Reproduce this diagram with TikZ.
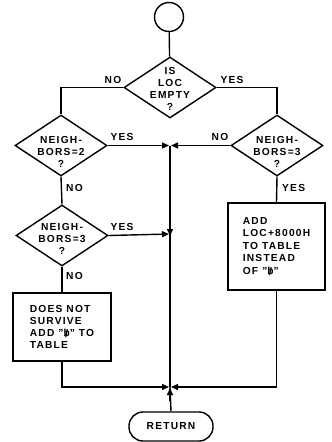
\documentclass[tikz,border=0pt]{standalone}
\usepackage{fontspec}
\setmainfont{Liberation Sans}[LetterSpace=12]
\usetikzlibrary{arrows.meta,shapes.geometric}
\newcommand\blanksym{\ooalign{\hfil b\hfil\cr\hfil\raisebox{-0.12em}{\fontsize{11}{12}\selectfont/}\hfil\cr}}
\begin{document}
\begin{tikzpicture}[x=1pt,y=-1pt,
  every node/.style={font=\fontsize{10.2}{12}\selectfont\bfseries},
  line/.style={line width=1.4pt},
  arr/.style={line/.try,-{Triangle[length=7pt,width=6pt]},shorten >=1pt},
  dia/.style={diamond,draw,line width=1.4pt,minimum width=92pt,minimum height=61pt,inner sep=0pt},
  box/.style={rectangle,draw,line width=1.4pt,align=left,inner sep=0pt},
  lab/.style={inner sep=0pt}
]
\useasboundingbox (0,0) rectangle (332,442);
\node[circle,draw,line width=1.4pt,minimum size=29pt,inner sep=0pt] (s) at (169,17) {};
\node[dia] (d1) at (170,87.5) {};
\node[align=center] at (170,88.5) {IS\\LOC\\EMPTY\\?};
\node[dia] (d2) at (61,145.5) {};
\node[align=center] at (61,152) {NEIGH-\\BORS=2\\?};
\node[dia] (d3) at (277,145.5) {};
\node[align=center] at (277,152) {NEIGH-\\BORS=3\\?};
\node[dia] (d4) at (62,235.5) {};
\node[align=center] at (62,239) {NEIGH-\\BORS=3\\?};
\node[box,minimum width=98pt,minimum height=68pt] (b1) at (62,327) {DOES NOT\\SURVIVE\\ADD "\blanksym" TO\\TABLE};
\node[box,minimum width=97pt,minimum height=87pt,font=\fontsize{10.2}{12.5}\selectfont\bfseries] (b2) at (276.5,246.5) {ADD\\LOC+8000H\\TO TABLE\\INSTEAD\\OF "\blanksym"};
\node[rectangle,draw,line width=1.4pt,rounded corners=14pt,minimum width=84pt,minimum height=29pt,inner sep=0pt] (r) at (171,426.5) {RETURN};
\coordinate (j1) at (170,145.5);
\coordinate (j2) at (170,234);
\coordinate (j3) at (170,387);
% connectors
\draw[line] (s) -- (d1);
\draw[line] (d1.west) -| (d2.north);
\draw[line] (d1.east) -| (d3.north);
\draw[arr] (d2.east) -- (j1);
\draw[arr] (d3.west) -- (j1);
\draw[arr] (j1) -- ([yshift=-3pt]j2);
\draw[line] (j2) -- (j3);
\draw[arr] (d4.east) -- (j2);
\draw[line] (d2.south) -- (d4.north);
\draw[line] (d4.south) -- (b1.north);
\draw[line] (d3.south) -- (b2.north);
\draw[arr] (b1.south) |- (j3);
\draw[arr] (b2.south) |- (j3);
\draw[arr] ([yshift=-14pt]j3) -- (j3);
\draw[line] (j3) -- (r.north);
% labels
\node[lab] at (113,80) {NO};
\node[lab] at (232,80) {YES};
\node[lab] at (122,137) {YES};
\node[lab] at (220,137) {NO};
\node[lab,anchor=west] at (66,188) {NO};
\node[lab,anchor=west] at (282,188) {YES};
\node[lab] at (122,227) {YES};
\node[lab,anchor=west] at (66,276) {NO};
\end{tikzpicture}
\end{document}
